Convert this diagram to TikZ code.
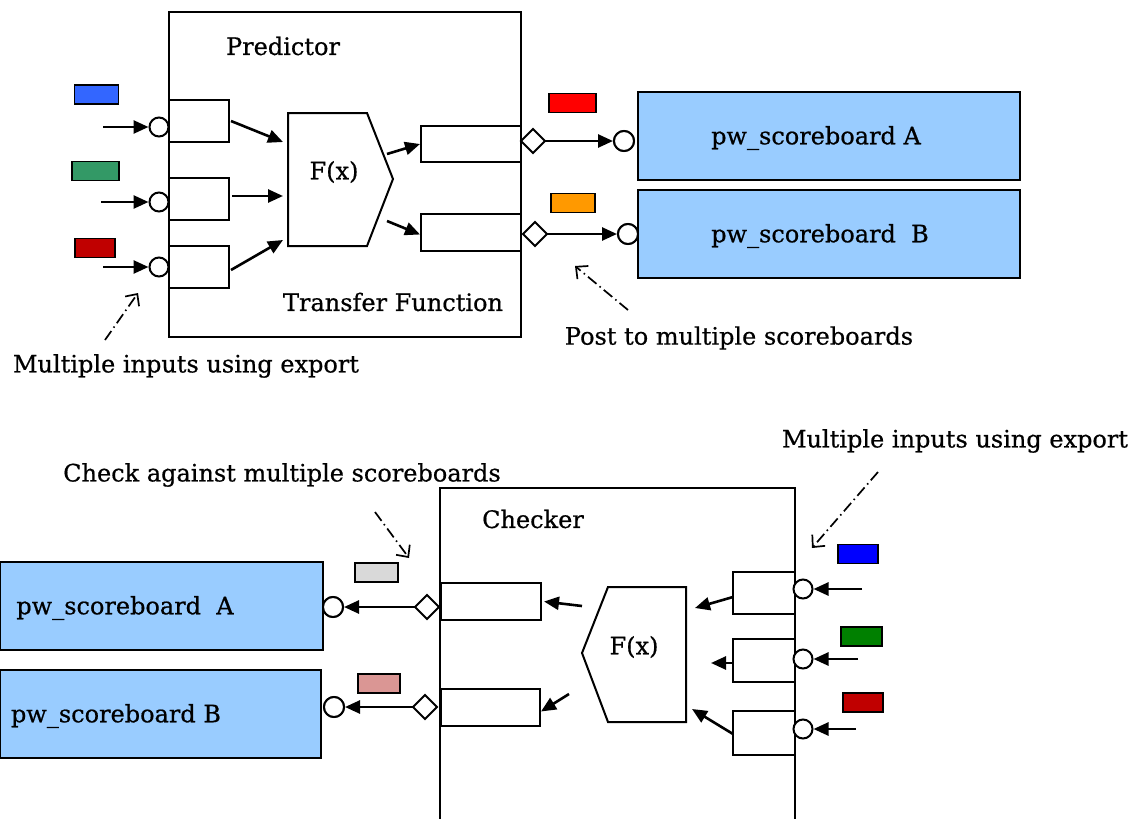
\documentclass[tikz,border=0pt]{standalone}
\usepackage{fontspec}
\setmainfont{DejaVu Serif}
\newfontfamily\labelfont{DejaVu Serif}[AutoFakeBold=0.6]
\usepackage{tikz}
\usetikzlibrary{arrows.meta}
\definecolor{scoreblue}{HTML}{99CCFF}
\definecolor{tagblue}{HTML}{3366FF}
\definecolor{taggreen}{HTML}{339966}
\definecolor{tagred}{HTML}{C00000}
\definecolor{tagbrightred}{HTML}{FF0000}
\definecolor{tagorange}{HTML}{FF9900}
\definecolor{tagpureblue}{HTML}{0000FF}
\definecolor{tagdarkgreen}{HTML}{008000}
\definecolor{taggrey}{HTML}{D9D9D9}
\definecolor{tagpink}{HTML}{DA9694}
\tikzset{
    port-box/.style = {draw, fill=white, line width=2pt, rectangle, minimum width=60pt, minimum height=42pt, inner sep=0pt},
    out-box/.style = {draw, fill=white, line width=2pt, rectangle, minimum width=100pt, minimum height=37pt, inner sep=0pt},
    tag-box/.style = {draw, line width=1.4pt, rectangle, minimum width=44pt, minimum height=19pt, inner sep=0pt},
    score-box/.style = {draw, fill=scoreblue, line width=2pt, rectangle, minimum height=88pt, inner sep=0pt},
    in-circle/.style = {draw, fill=white, line width=2pt, circle, minimum size=19pt, inner sep=0pt},
    data-arrow/.style = {line width=2.6pt, -{Triangle[length=15pt,width=13pt]}},
    note-arrow/.style = {line width=1.7pt, dash pattern=on 11pt off 4pt on 1.5pt off 4pt, -{Straight Barb[length=9pt,width=17pt,line width=1.7pt]}},
    label-text/.style = {font=\labelfont\bfseries\fontsize{24}{28}\selectfont, inner sep=0pt},
}
\newcommand{\diamondport}[3]{% name, x, y
  \draw[line width=2pt, fill=white] (#2-12,#3) -- (#2,#3-12) -- (#2+12,#3) -- (#2,#3+12) -- cycle;
  \coordinate (#1-w) at (#2-12,#3);
  \coordinate (#1-e) at (#2+12,#3);
}
\begin{document}
\begin{tikzpicture}[x=1pt,y=-1pt]
\useasboundingbox (0,0) rectangle (1135,819);

% ---------------- predictor ----------------
\draw[line width=2pt] (169,12) rectangle (521,337);
\node[label-text] (pred-title) at (283,46) {Predictor};
\node[label-text] (pred-tf) at (393,302) {Transfer Function};

% input ports
\node[port-box] (pin1) at (199,121) {};
\node[port-box] (pin2) at (199,199) {};
\node[port-box] (pin3) at (199,267) {};
\node[in-circle] (pc1) at (159,127) {};
\node[in-circle] (pc2) at (159,202) {};
\node[in-circle] (pc3) at (159,267) {};
\coordinate (ps1) at (103,127);
\coordinate (ps2) at (101,202);
\coordinate (ps3) at (103,267);
\draw[data-arrow] (ps1) -- (pc1.west);
\draw[data-arrow] (ps2) -- (pc2.west);
\draw[data-arrow] (ps3) -- (pc3.west);
\node[tag-box, fill=tagblue] (ptag1) at (96.5,94.5) {};
\node[tag-box, fill=taggreen, minimum width=47pt] (ptag2) at (95.5,171) {};
\node[tag-box, fill=tagred, minimum width=40pt] (ptag3) at (95,248) {};

% transfer function
\draw[line width=2pt, fill=white] (288,113) -- (367,113) -- (393,179) -- (367,246) -- (288,246) -- cycle;
\node[label-text] (pfx) at (334,172) {F(x)};
\coordinate (pf1) at (283,142);
\coordinate (pf2) at (283,196);
\coordinate (pf3) at (283,240);
\draw[data-arrow] (231,121) -- (pf1);
\draw[data-arrow] (pin2.east) ++(2,-3) -- (pf2);
\draw[data-arrow] (231,270) -- (pf3);

% output ports
\node[out-box, minimum height=36pt] (pout1) at (471,144) {};
\node[out-box] (pout2) at (471,232.5) {};
\coordinate (pfo1) at (387,154);
\coordinate (pfo2) at (387,221);
\draw[data-arrow] (pfo1) -- (pout1.west);
\draw[data-arrow] (pfo2) -- ([yshift=-2pt]pout2.west);
\diamondport{pd1}{533}{141}
\diamondport{pd2}{535}{234}
\node[in-circle, minimum size=20pt] (psc1) at (624,141) {};
\node[in-circle, minimum size=20pt] (psc2) at (628,234) {};
\draw[data-arrow] (pd1-e) -- (psc1.west);
\draw[data-arrow] (pd2-e) -- (psc2.west);
\node[tag-box, fill=tagbrightred, minimum width=47pt] (potag1) at (572.5,103) {};
\node[tag-box, fill=tagorange] (potag2) at (573,203) {};

% scoreboards
\node[score-box, minimum width=382pt] (psbA) at (829,136) {};
\node[score-box, minimum width=382pt] (psbB) at (829,234) {};
\draw[line width=2pt, fill=white] (psc1) circle (10pt);
\draw[line width=2pt, fill=white] (psc2) circle (10pt);
\node[label-text] at (816,138) {pw\_scoreboard A};
\node[label-text] at (820,236) {pw\_scoreboard\ \ B};

% notes
\node[label-text] (pnote1) at (186,366) {Multiple inputs using export};
\node[label-text] (pnote2) at (739,338) {Post to multiple scoreboards};
\draw[note-arrow] (105,340) -- (138,293);
\draw[note-arrow] (628,310) -- (575,266);

% ---------------- checker ----------------
\draw[line width=2pt] (440,819) -- (440,488) -- (795,488) -- (795,819);
\node[label-text] (chk-title) at (533,519) {Checker};

% input ports
\node[port-box, minimum width=62pt] (cin1) at (764,593) {};
\node[port-box, minimum width=62pt, minimum height=43pt] (cin2) at (764,660.5) {};
\node[port-box, minimum width=62pt, minimum height=44pt] (cin3) at (764,733) {};
\node[in-circle] (cc1) at (803,589) {};
\node[in-circle] (cc2) at (803,659) {};
\node[in-circle] (cc3) at (803,729) {};
\coordinate (cs1) at (862,589);
\coordinate (cs2) at (858,659);
\coordinate (cs3) at (856,729);
\draw[data-arrow] (cs1) -- (cc1.east);
\draw[data-arrow] (cs2) -- (cc2.east);
\draw[data-arrow] (cs3) -- (cc3.east);
\node[tag-box, fill=tagpureblue, minimum width=40pt] (ctag1) at (858,554) {};
\node[tag-box, fill=tagdarkgreen, minimum width=41pt] (ctag2) at (861.5,636.5) {};
\node[tag-box, fill=tagred, minimum width=40pt] (ctag3) at (863,702.5) {};

% transfer function
\draw[line width=2pt, fill=white] (686,587) -- (608,587) -- (582,653) -- (608,722) -- (686,722) -- cycle;
\node[label-text] (cfx) at (634,647) {F(x)};
\coordinate (cf1) at (695,608);
\coordinate (cf2) at (711,663);
\coordinate (cf3) at (692,709);
\draw[data-arrow] (733,597) -- (cf1);
\draw[data-arrow] (733,663) -- (cf2);
\draw[data-arrow] (733,734) -- (cf3);

% output ports
\node[out-box] (cout1) at (491,601.5) {};
\node[out-box, minimum width=99pt] (cout2) at (490.5,707.5) {};
\coordinate (cfo1) at (582,606);
\coordinate (cfo2) at (569,694);
\draw[data-arrow] (cfo1) -- ([xshift=2pt]cout1.east);
\draw[data-arrow] (cfo2) -- ([yshift=-4pt]cout2.east);
\diamondport{cd1}{427}{607}
\diamondport{cd2}{425}{707}
\node[in-circle, minimum size=20pt] (csc1) at (333,607) {};
\node[in-circle, minimum size=20pt] (csc2) at (334,707) {};

% scoreboards
\node[score-box, minimum width=323pt] (csbA) at (161.5,606) {};
\node[score-box, minimum width=321pt] (csbB) at (160.5,714) {};
\draw[line width=2pt, fill=white] (csc1) circle (10pt);
\draw[line width=2pt, fill=white] (csc2) circle (10pt);
\draw[data-arrow] (cd1-w) -- (csc1.east);
\draw[data-arrow] (cd2-w) -- (csc2.east);
\node[tag-box, fill=taggrey, minimum width=43pt] (cotag1) at (376.5,572.5) {};
\node[tag-box, fill=tagpink, minimum width=42pt] (cotag2) at (379,683.5) {};
\node[label-text] at (125,608) {pw\_scoreboard\ \ A};
\node[label-text] at (116,716) {pw\_scoreboard B};

% notes
\node[label-text] (cnote1) at (282,475) {Check against multiple scoreboards};
\node[label-text] (cnote2) at (955,441) {Multiple inputs using export};
\draw[note-arrow] (375,512) -- (409,558);
\draw[note-arrow] (878,472) -- (812,548);
\end{tikzpicture}
\end{document}
